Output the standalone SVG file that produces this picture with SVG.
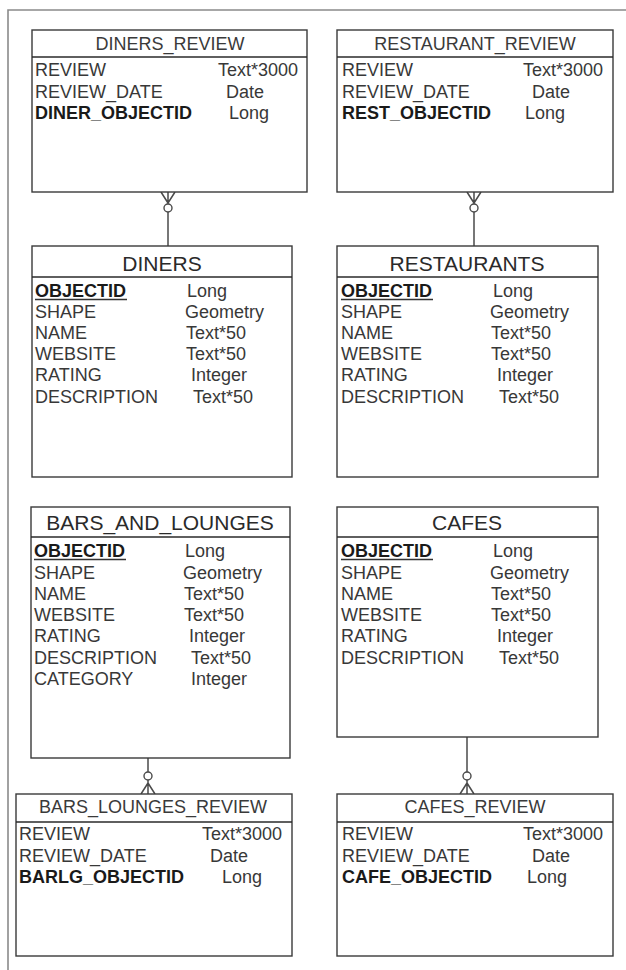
<svg xmlns="http://www.w3.org/2000/svg" width="626" height="970" viewBox="0 0 626 970">
<style>
.box{fill:#fff;stroke:#3a3a3a;stroke-width:1.4}
.sep{stroke:#2a2a2a;stroke-width:1.4}
.frame{stroke:#8a8a8a;stroke-width:1.6;fill:none}
text{font-family:"Liberation Sans",Arial,sans-serif;fill:#383838}
.h1{font-size:21px;text-anchor:middle;fill:#2a2a2a}
.h2{font-size:18px;text-anchor:middle;fill:#3a3a3a}
.f{font-size:18px}
.b{font-size:18px;font-weight:bold;fill:#1a1a1a}
.ul{stroke:#333;stroke-width:1.4}
.conn line,.conn path{stroke:#4a4a4a;stroke-width:1.5;fill:none}
.conn circle{stroke:#4a4a4a;stroke-width:1.4;fill:#fff}
</style>
<rect width="626" height="970" fill="#fff"/>
<path class="frame" d="M8 970 V10 H626"/>

<g class="conn">
<line x1="168" y1="212" x2="168" y2="246"/>
<path d="M161 192 L168 203 L175 192 M168 192 V204"/>
<circle cx="168" cy="208" r="4"/>
<line x1="474" y1="212" x2="474" y2="246"/>
<path d="M467 192 L474 203 L481 192 M474 192 V204"/>
<circle cx="474" cy="208" r="4"/>
<line x1="148" y1="758" x2="148" y2="772"/>
<path d="M141 794 L148 783 L155 794 M148 794 V780"/>
<circle cx="148" cy="776" r="4"/>
<line x1="467" y1="737" x2="467" y2="772"/>
<path d="M460 794 L467 783 L474 794 M467 794 V780"/>
<circle cx="467" cy="776" r="4"/>
</g>

<g id="diners_review">
<rect class="box" x="32" y="30" width="275" height="162"/>
<line class="sep" x1="32" y1="57" x2="307" y2="57"/>
<text class="h2" x="170" y="50">DINERS_REVIEW</text>
<text class="f" x="35" y="76">REVIEW</text><text class="f" x="218" y="76">Text*3000</text>
<text class="f" x="35" y="98">REVIEW_DATE</text><text class="f" x="226" y="98">Date</text>
<text class="b" x="35" y="119">DINER_OBJECTID</text><text class="f" x="229" y="119">Long</text>
</g>

<g id="restaurant_review">
<rect class="box" x="337" y="30" width="276" height="162"/>
<line class="sep" x1="337" y1="57" x2="613" y2="57"/>
<text class="h2" x="475" y="50">RESTAURANT_REVIEW</text>
<text class="f" x="342" y="76">REVIEW</text><text class="f" x="523" y="76">Text*3000</text>
<text class="f" x="342" y="98">REVIEW_DATE</text><text class="f" x="532" y="98">Date</text>
<text class="b" x="342" y="119">REST_OBJECTID</text><text class="f" x="525" y="119">Long</text>
</g>

<g id="diners">
<rect class="box" x="32" y="246" width="260" height="231"/>
<line class="sep" x1="32" y1="277" x2="292" y2="277"/>
<text class="h1" x="162" y="271">DINERS</text>
<text class="b" x="35" y="297">OBJECTID</text><line class="ul" x1="35" y1="299.5" x2="127" y2="299.5"/><text class="f" x="187" y="297">Long</text>
<text class="f" x="35" y="318">SHAPE</text><text class="f" x="185" y="318">Geometry</text>
<text class="f" x="35" y="339">NAME</text><text class="f" x="186" y="339">Text*50</text>
<text class="f" x="35" y="360">WEBSITE</text><text class="f" x="186" y="360">Text*50</text>
<text class="f" x="35" y="381">RATING</text><text class="f" x="191" y="381">Integer</text>
<text class="f" x="35" y="403">DESCRIPTION</text><text class="f" x="193" y="403">Text*50</text>
</g>

<g id="restaurants">
<rect class="box" x="337" y="246" width="261" height="231"/>
<line class="sep" x1="337" y1="277" x2="598" y2="277"/>
<text class="h1" x="467" y="271">RESTAURANTS</text>
<text class="b" x="341" y="297">OBJECTID</text><line class="ul" x1="341" y1="299.5" x2="433" y2="299.5"/><text class="f" x="493" y="297">Long</text>
<text class="f" x="341" y="318">SHAPE</text><text class="f" x="490" y="318">Geometry</text>
<text class="f" x="341" y="339">NAME</text><text class="f" x="491" y="339">Text*50</text>
<text class="f" x="341" y="360">WEBSITE</text><text class="f" x="491" y="360">Text*50</text>
<text class="f" x="341" y="381">RATING</text><text class="f" x="497" y="381">Integer</text>
<text class="f" x="341" y="403">DESCRIPTION</text><text class="f" x="499" y="403">Text*50</text>
</g>

<g id="bars_and_lounges">
<rect class="box" x="31" y="507" width="259" height="251"/>
<line class="sep" x1="31" y1="537" x2="290" y2="537"/>
<text class="h1" x="160" y="530">BARS_AND_LOUNGES</text>
<text class="b" x="34" y="557">OBJECTID</text><line class="ul" x1="34" y1="559.5" x2="126" y2="559.5"/><text class="f" x="185" y="557">Long</text>
<text class="f" x="34" y="579">SHAPE</text><text class="f" x="183" y="579">Geometry</text>
<text class="f" x="34" y="600">NAME</text><text class="f" x="184" y="600">Text*50</text>
<text class="f" x="34" y="621">WEBSITE</text><text class="f" x="184" y="621">Text*50</text>
<text class="f" x="34" y="642">RATING</text><text class="f" x="189" y="642">Integer</text>
<text class="f" x="34" y="664">DESCRIPTION</text><text class="f" x="191" y="664">Text*50</text>
<text class="f" x="34" y="685">CATEGORY</text><text class="f" x="191" y="685">Integer</text>
</g>

<g id="cafes">
<rect class="box" x="337" y="507" width="261" height="230"/>
<line class="sep" x1="337" y1="537" x2="598" y2="537"/>
<text class="h1" x="467" y="530">CAFES</text>
<text class="b" x="341" y="557">OBJECTID</text><line class="ul" x1="341" y1="559.5" x2="433" y2="559.5"/><text class="f" x="493" y="557">Long</text>
<text class="f" x="341" y="579">SHAPE</text><text class="f" x="490" y="579">Geometry</text>
<text class="f" x="341" y="600">NAME</text><text class="f" x="491" y="600">Text*50</text>
<text class="f" x="341" y="621">WEBSITE</text><text class="f" x="491" y="621">Text*50</text>
<text class="f" x="341" y="642">RATING</text><text class="f" x="497" y="642">Integer</text>
<text class="f" x="341" y="664">DESCRIPTION</text><text class="f" x="499" y="664">Text*50</text>
</g>

<g id="bars_lounges_review">
<rect class="box" x="16" y="794" width="276" height="162"/>
<line class="sep" x1="16" y1="822" x2="292" y2="822"/>
<text class="h2" x="153" y="813">BARS_LOUNGES_REVIEW</text>
<text class="f" x="19" y="840">REVIEW</text><text class="f" x="202" y="840">Text*3000</text>
<text class="f" x="19" y="862">REVIEW_DATE</text><text class="f" x="210" y="862">Date</text>
<text class="b" x="19" y="883">BARLG_OBJECTID</text><text class="f" x="222" y="883">Long</text>
</g>

<g id="cafes_review">
<rect class="box" x="337" y="794" width="276" height="162"/>
<line class="sep" x1="337" y1="822" x2="613" y2="822"/>
<text class="h2" x="475" y="813">CAFES_REVIEW</text>
<text class="f" x="342" y="840">REVIEW</text><text class="f" x="523" y="840">Text*3000</text>
<text class="f" x="342" y="862">REVIEW_DATE</text><text class="f" x="532" y="862">Date</text>
<text class="b" x="342" y="883">CAFE_OBJECTID</text><text class="f" x="527" y="883">Long</text>
</g>
</svg>
